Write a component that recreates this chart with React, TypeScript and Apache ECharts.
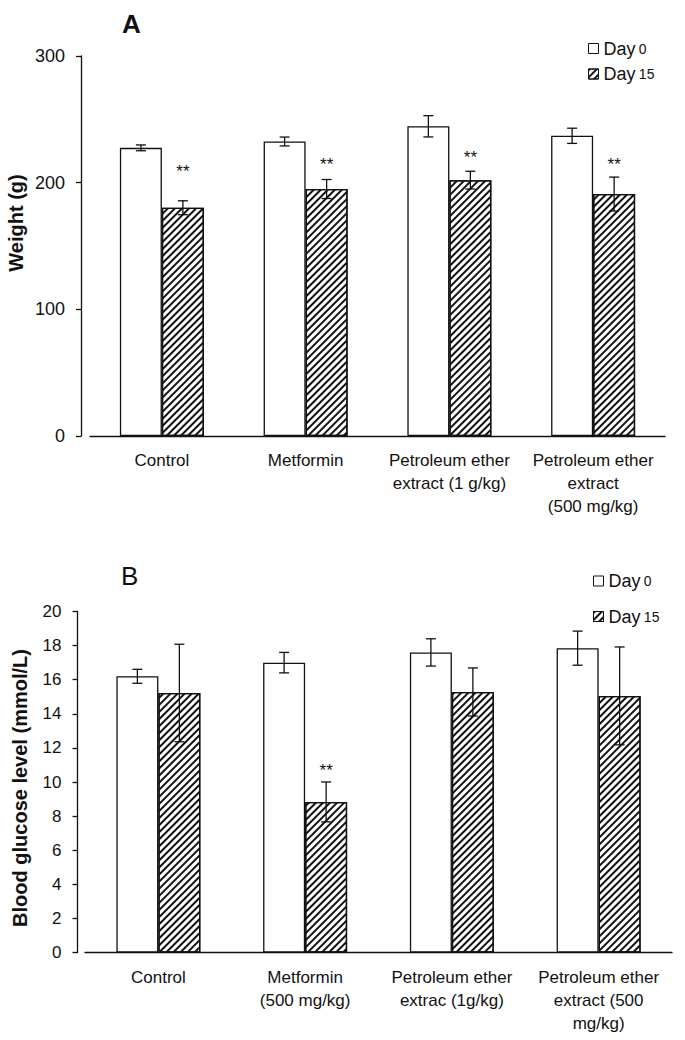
import React, { useEffect, useRef } from "react";
import * as echarts from "echarts";

const FONT = "'Liberation Sans', Arial, Helvetica, sans-serif";

// Panel A: body weight (g)
const categoriesA = ["Control", "Metformin", "Petroleum ether\nextract (1 g/kg)", "Petroleum ether\nextract\n(500 mg/kg)"];
const weightDay0 = [227.5, 232.5, 244.5, 237];
const weightDay0Err = [2.3, 3.5, 8.4, 6];
const weightDay15 = [180.2, 195, 202, 191];
const weightDay15Err = [5.5, 7.5, 7, 13.4];
const weightStars = [211.6, 217.3, 223, 217.7];
const ticksA = { min: 0, max: 300, interval: 100 };

// Panel B: blood glucose (mmol/L)
const categoriesB = ["Control", "Metformin\n(500 mg/kg)", "Petroleum ether\nextrac (1g/kg)", "Petroleum ether\nextract (500\nmg/kg)"];
const glucoseDay0 = [16.2, 17.0, 17.6, 17.85];
const glucoseDay0Err = [0.41, 0.6, 0.8, 1.0];
const glucoseDay15 = [15.22, 8.83, 15.28, 15.05];
const glucoseDay15Err = [2.86, 1.17, 1.41, 2.87];
const glucoseStars: (number | null)[] = [null, 10.93, null, null];
const ticksB = { min: 0, max: 20, interval: 2 };

const seriesNames = ["Day 0", "Day 15"];

const BAR_W = 42;
const LINE = "#111";

const hatch = {
  symbol: "rect",
  symbolSize: 1,
  color: "#111",
  backgroundColor: "#fff",
  dashArrayX: [1, 0],
  dashArrayY: [2, 2.4],
  rotation: -Math.PI / 4,
};

function errRender(offset: number) {
  return (params: any, api: any) => {
    const i = api.value(0);
    const v = api.value(1);
    const e = api.value(2);
    const top = api.coord([i, v + e]);
    const bot = api.coord([i, v - e]);
    const x = top[0] + offset;
    const hw = 5;
    const st = { stroke: LINE, lineWidth: 1.3 };
    return {
      type: "group",
      children: [
        { type: "line", shape: { x1: x, y1: top[1], x2: x, y2: bot[1] }, style: st },
        { type: "line", shape: { x1: x - hw, y1: top[1], x2: x + hw, y2: top[1] }, style: st },
        { type: "line", shape: { x1: x - hw, y1: bot[1], x2: x + hw, y2: bot[1] }, style: st },
      ],
    };
  };
}

function starRender(params: any, api: any) {
  const p = api.coord([api.value(0), api.value(1)]);
  return {
    type: "text",
    x: p[0] + BAR_W / 2,
    y: p[1] + 4,
    style: { text: "**", fontSize: 17, fontFamily: FONT, fill: LINE, align: "center", verticalAlign: "middle" },
  };
}

function panelSeries(gi: number, d0: number[], e0: number[], d15: number[], e15: number[], stars: (number | null)[]) {
  const barBase = {
    type: "bar",
    xAxisIndex: gi,
    yAxisIndex: gi,
    barWidth: BAR_W,
    barGap: "0%",
    z: 2,
  };
  return [
    {
      ...barBase,
      name: seriesNames[0],
      data: d0,
      itemStyle: { color: "#fff", borderColor: LINE, borderWidth: 1.3 },
    },
    {
      ...barBase,
      name: seriesNames[1],
      data: d15,
      itemStyle: { color: "#fff", borderColor: LINE, borderWidth: 1.3, decal: hatch },
    },
    {
      type: "custom",
      xAxisIndex: gi,
      yAxisIndex: gi,
      z: 4,
      renderItem: errRender(-BAR_W / 2),
      encode: { x: 0, y: 1 },
      data: d0.map((v, i) => [i, v, e0[i]]),
      silent: true,
    },
    {
      type: "custom",
      xAxisIndex: gi,
      yAxisIndex: gi,
      z: 4,
      renderItem: errRender(BAR_W / 2),
      encode: { x: 0, y: 1 },
      data: d15.map((v, i) => [i, v, e15[i]]),
      silent: true,
    },
    {
      type: "custom",
      xAxisIndex: gi,
      yAxisIndex: gi,
      z: 5,
      renderItem: starRender,
      encode: { x: 0, y: 1 },
      data: stars.map((s, i) => (s == null ? null : [i, s])).filter((d) => d != null),
      silent: true,
    },
  ];
}

function yAxisCfg(t: { min: number; max: number; interval: number }, gi: number, offset: number, fontSize: number) {
  return {
    type: "value",
    gridIndex: gi,
    min: t.min,
    max: t.max,
    interval: t.interval,
    offset,
    axisLine: { show: true, lineStyle: { color: LINE, width: 1.3 } },
    axisTick: { show: true, length: 5, lineStyle: { color: LINE, width: 1.3 } },
    axisLabel: { color: LINE, fontSize, fontFamily: FONT, margin: 16 },
    splitLine: { show: false },
  };
}

function xAxisCfg(cats: string[], gi: number) {
  return {
    type: "category",
    gridIndex: gi,
    data: cats,
    axisLine: { show: true, lineStyle: { color: LINE, width: 1.3 } },
    axisTick: { show: false },
    axisLabel: { color: LINE, fontSize: 17, lineHeight: 23, fontFamily: FONT, margin: 13, interval: 0 },
  };
}

function legendCfg(left: number, top: number, gap: number) {
  return {
    orient: "vertical",
    left,
    top,
    itemWidth: 10,
    itemHeight: 10,
    itemGap: gap,
    icon: "rect",
    data: seriesNames,
    selectedMode: false,
    itemStyle: { borderColor: LINE, borderWidth: 1 },
    formatter: (name: string) => "{a|Day} {b|" + name.replace("Day ", "") + "}",
    textStyle: {
      color: LINE,
      fontFamily: FONT,
      rich: {
        a: { fontSize: 18, lineHeight: 20, fontFamily: FONT, color: LINE },
        b: { fontSize: 14, lineHeight: 20, fontFamily: FONT, color: LINE },
      },
    },
  };
}

export default function App() {
  const ref = useRef<HTMLDivElement>(null);
  useEffect(() => {
    document.body.style.margin = "0";
    const chart = echarts.init(ref.current!, null, { renderer: "svg" });
    chart.setOption({
      animation: false,
      backgroundColor: "#fff",
      textStyle: { fontFamily: FONT },
      grid: [
        { left: 90, top: 56, width: 575, height: 380 },
        { left: 85, top: 611.5, width: 587, height: 341 },
      ],
      xAxis: [xAxisCfg(categoriesA, 0), xAxisCfg(categoriesB, 1)],
      yAxis: [yAxisCfg(ticksA, 0, 9, 18), yAxisCfg(ticksB, 1, 7.5, 17)],
      legend: [legendCfg(583, 34.5, 7.5), legendCfg(588, 567, 17.5)],
      graphic: [
        { type: "text", x: 122, y: 24, style: { text: "A", fontSize: 26, fontWeight: "bold", fontFamily: FONT, fill: LINE, align: "left", verticalAlign: "middle" } },
        { type: "text", x: 121, y: 576, style: { text: "B", fontSize: 26, fontFamily: FONT, fill: LINE, align: "left", verticalAlign: "middle" } },
        { type: "text", x: 16, y: 223, rotation: Math.PI / 2, style: { text: "Weight (g)", fontSize: 20, fontWeight: "bold", fontFamily: FONT, fill: LINE, align: "center", verticalAlign: "middle" } },
        { type: "text", x: 20, y: 788, rotation: Math.PI / 2, style: { text: "Blood glucose level (mmol/L)", fontSize: 20, fontWeight: "bold", fontFamily: FONT, fill: LINE, align: "center", verticalAlign: "middle" } },
      ],
      series: [
        ...panelSeries(0, weightDay0, weightDay0Err, weightDay15, weightDay15Err, weightStars),
        ...panelSeries(1, glucoseDay0, glucoseDay0Err, glucoseDay15, glucoseDay15Err, glucoseStars),
      ],
    });
    return () => chart.dispose();
  }, []);
  return <div ref={ref} style={{ width: 685, height: 1040 }} />;
}
